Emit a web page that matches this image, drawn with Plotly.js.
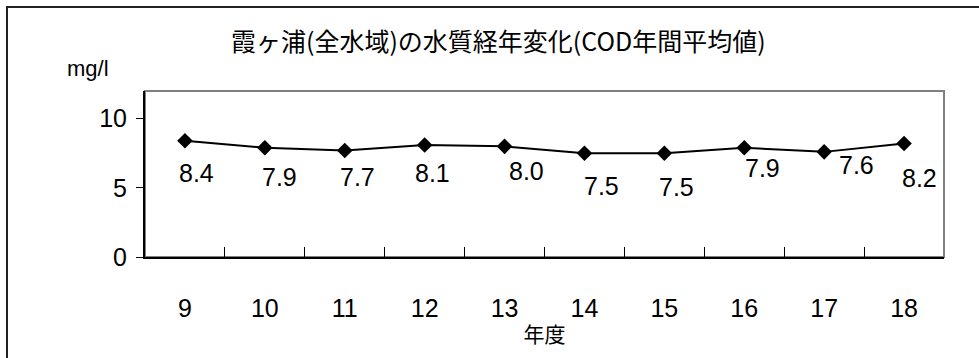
<!DOCTYPE html>
<html>
<head>
<meta charset="utf-8">
<script src="https://cdn.plot.ly/plotly-3.0.1.min.js"></script>
<style>
  html, body { margin: 0; padding: 0; background: #fff; }
  #chart { width: 979px; height: 358px; }
</style>
</head>
<body>
<div id="chart"></div>
<script>
// 年度 (fiscal years) and COD annual mean, mg/l
const years = ['9', '10', '11', '12', '13', '14', '15', '16', '17', '18'];
const codMean = [8.4, 7.9, 7.7, 8.1, 8.0, 7.5, 7.5, 7.9, 7.6, 8.2];
const yTicks = [0, 5, 10];

const titleText = '霞ヶ浦(全水域)の水質経年変化(COD年間平均値)';
const xTitle = '年度';
const yUnit = 'mg/l';

// pixel offsets of each value label from its marker
const labelDx = [12, 15, 13, 8, 22, 17, 12, 18, 32, 15];
const labelDy = [-32, -29, -27, -28, -25, -33, -34, -20, -13, -34];

const numFont = "'Liberation Sans Narrow', 'Arial Narrow', 'Liberation Sans', Arial, sans-serif";
const jpFont = "'Noto Sans CJK JP', sans-serif";

const trace = {
  x: years,
  y: codMean,
  type: 'scatter',
  mode: 'lines+markers',
  line: { color: '#000', width: 2 },
  marker: { symbol: 'diamond', size: 12, color: '#000' },
  hoverinfo: 'skip'
};

// value labels; on a category axis the annotation x is the category index
const annotations = codMean.map((v, i) => ({
  x: i, y: v, xref: 'x', yref: 'y',
  text: v.toFixed(1), showarrow: false,
  xshift: labelDx[i], yshift: labelDy[i],
  font: { family: numFont, size: 25, color: '#000' }
}));

annotations.push({
  xref: 'paper', yref: 'paper', x: 0, y: 1,
  xshift: -57, yshift: 8, xanchor: 'center', yanchor: 'bottom',
  text: yUnit, showarrow: false,
  font: { family: numFont, size: 22, color: '#000' }
});

const layout = {
  width: 979, height: 358,
  margin: { l: 145, r: 35, t: 91, b: 101 },
  paper_bgcolor: '#fff', plot_bgcolor: '#fff',
  showlegend: false,
  title: {
    text: titleText, x: 0.509, xanchor: 'center', y: 0.883, yanchor: 'middle',
    font: { family: jpFont, size: 25, color: '#000' }
  },
  xaxis: {
    type: 'category', range: [-0.5, 9.5], fixedrange: true,
    showline: true, linecolor: '#000', linewidth: 2, mirror: false,
    showgrid: false, zeroline: false,
    ticks: 'inside', tickson: 'boundaries', ticklen: 10, tickwidth: 1, tickcolor: '#000',
    ticklabelstandoff: 28,
    tickfont: { family: numFont, size: 25, color: '#000' },
    title: { text: xTitle, standoff: 6, font: { family: jpFont, size: 21, color: '#000' } }
  },
  yaxis: {
    range: [0, 12], fixedrange: true,
    tickvals: yTicks, ticktext: yTicks.map(String),
    showline: true, linecolor: '#000', linewidth: 2,
    showgrid: false, zeroline: false,
    ticks: 'outside', ticklen: 7, tickwidth: 1, tickcolor: '#000',
    ticklabelstandoff: 4,
    tickfont: { family: numFont, size: 25, color: '#000' }
  },
  shapes: [
    // plot-area frame (top and right edges show in grey)
    { type: 'rect', xref: 'paper', yref: 'paper', x0: 0, x1: 1, y0: 0, y1: 1,
      line: { color: '#808080', width: 2 }, layer: 'below' },
    // outer chart border, running past the right and bottom edges
    { type: 'rect', xref: 'paper', yref: 'paper',
      x0: -138 / 799, x1: 1 + 60 / 799, y0: -130 / 166, y1: 1 + 84 / 166,
      line: { color: '#222', width: 2 }, layer: 'below' }
  ],
  annotations: annotations
};

Plotly.newPlot('chart', [trace], layout, { displayModeBar: false, staticPlot: true });
</script>
</body>
</html>
